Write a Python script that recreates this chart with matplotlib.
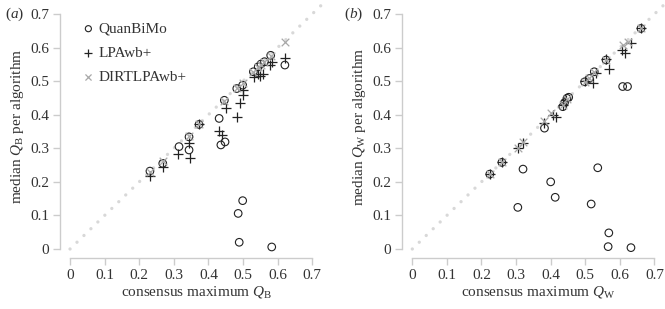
import numpy as np
import matplotlib
matplotlib.use('Agg')
import matplotlib.pyplot as plt

plt.rcParams['font.family'] = ['Liberation Serif', 'DejaVu Serif']
plt.rcParams['mathtext.fontset'] = 'custom'
plt.rcParams['mathtext.rm'] = 'Liberation Serif'
plt.rcParams['mathtext.it'] = 'Liberation Serif:italic'
plt.rcParams['font.size'] = 11

# панель (a): Q_B
qb_quan_x = [0.231, 0.268, 0.315, 0.344, 0.344, 0.373, 0.431, 0.436, 0.448, 0.446, 0.482, 0.499,
             0.530, 0.544, 0.552, 0.562, 0.580, 0.621, 0.486, 0.499, 0.489, 0.583]
qb_quan_y = [0.232, 0.255, 0.305, 0.295, 0.334, 0.371, 0.389, 0.310, 0.319, 0.443, 0.478, 0.488,
             0.528, 0.543, 0.551, 0.558, 0.577, 0.548, 0.106, 0.144, 0.020, 0.006]
qb_lpa_x = [0.231, 0.268, 0.313, 0.347, 0.344, 0.373, 0.431, 0.438, 0.451, 0.482, 0.491, 0.501,
            0.499, 0.532, 0.549, 0.559, 0.544, 0.578, 0.583, 0.621]
qb_lpa_y = [0.217, 0.243, 0.283, 0.270, 0.315, 0.371, 0.352, 0.339, 0.419, 0.394, 0.434, 0.458,
            0.473, 0.511, 0.515, 0.521, 0.521, 0.548, 0.558, 0.568]
qb_dirt_x = [0.231, 0.268, 0.344, 0.373, 0.446, 0.482, 0.499, 0.530, 0.544, 0.552, 0.562, 0.580, 0.621]
qb_dirt_y = [0.229, 0.262, 0.338, 0.371, 0.440, 0.480, 0.494, 0.528, 0.542, 0.549, 0.558, 0.574, 0.618]

# панель (b): Q_W
qw_quan_x = [0.224, 0.259, 0.382, 0.435, 0.440, 0.447, 0.452, 0.498, 0.512, 0.526, 0.560, 0.608,
             0.622, 0.661, 0.305, 0.320, 0.400, 0.413, 0.517, 0.536, 0.568, 0.566, 0.632]
qw_quan_y = [0.223, 0.258, 0.360, 0.424, 0.436, 0.449, 0.452, 0.498, 0.508, 0.528, 0.563, 0.484,
             0.484, 0.657, 0.124, 0.238, 0.200, 0.154, 0.134, 0.242, 0.048, 0.007, 0.004]
qw_lpa_x = [0.224, 0.259, 0.305, 0.320, 0.382, 0.406, 0.416, 0.435, 0.445, 0.498, 0.522, 0.530,
            0.560, 0.568, 0.606, 0.616, 0.632, 0.661]
qw_lpa_y = [0.223, 0.258, 0.300, 0.315, 0.374, 0.399, 0.394, 0.430, 0.445, 0.500, 0.494, 0.525,
            0.565, 0.535, 0.593, 0.583, 0.613, 0.657]
qw_dirt_x = [0.224, 0.259, 0.305, 0.320, 0.382, 0.402, 0.435, 0.447, 0.498, 0.512, 0.526, 0.560,
             0.608, 0.622, 0.661]
qw_dirt_y = [0.223, 0.258, 0.300, 0.320, 0.380, 0.404, 0.430, 0.447, 0.498, 0.510, 0.526, 0.563,
             0.608, 0.618, 0.657]

diag = [0, 0.73]
ticks = [0, 0.1, 0.2, 0.3, 0.4, 0.5, 0.6, 0.7]
tick_labels = ['0', '0.1', '0.2', '0.3', '0.4', '0.5', '0.6', '0.7']

text_c = '#333333'
spine_c = '#cccccc'

fig = plt.figure(figsize=(6.65, 3.09), dpi=100)
w, h = 0.3798, 0.793
ax_a = fig.add_axes([0.1053, 0.1942, w, h])
ax_b = fig.add_axes([0.620, 0.1942, w, h])


def style(ax, sub):
    ax.plot(diag, diag, color='#d8d8d8', lw=2.4, ls=(0, (0.01, 2.9)),
            dash_capstyle='round', clip_on=False, zorder=1)
    ax.set_xlim(0, 0.73)
    ax.set_ylim(0, 0.73)
    for s in ['top', 'right']:
        ax.spines[s].set_visible(False)
    ax.spines['left'].set_position(('outward', 7.2))
    ax.spines['bottom'].set_position(('outward', 6.5))
    ax.spines['left'].set_bounds(0, 0.7)
    ax.spines['bottom'].set_bounds(0, 0.7)
    for s in ['left', 'bottom']:
        ax.spines[s].set_color(spine_c)
        ax.spines[s].set_linewidth(1.0)
    ax.set_xticks(ticks)
    ax.set_xticklabels(tick_labels)
    ax.set_yticks(ticks)
    ax.set_yticklabels(tick_labels)
    ax.tick_params(colors=spine_c, labelcolor=text_c, length=5, width=1.0, pad=3, labelsize=11)
    ax.set_xlabel(r'consensus maximum $Q_{\mathrm{%s}}$' % sub, color=text_c, fontsize=11, labelpad=1)
    ax.set_ylabel(r'median $Q_{\mathrm{%s}}$ per algorithm' % sub, color=text_c, fontsize=11, labelpad=3)


def draw(ax, qx, qy, lx, ly, dx, dy):
    ax.scatter(qx, qy, s=30, facecolors='none', edgecolors='#222222', linewidths=0.8,
               marker='o', clip_on=False, zorder=3, label='QuanBiMo')
    ax.scatter(lx, ly, s=60, color='#222222', linewidths=0.9, marker='+',
               clip_on=False, zorder=4, label='LPAwb+')
    ax.scatter(dx, dy, s=30, color='#a8a8a8', linewidths=0.9, marker='x',
               clip_on=False, zorder=5, label='DIRTLPAwb+')


style(ax_a, 'B')
style(ax_b, 'W')
draw(ax_a, qb_quan_x, qb_quan_y, qb_lpa_x, qb_lpa_y, qb_dirt_x, qb_dirt_y)
draw(ax_b, qw_quan_x, qw_quan_y, qw_lpa_x, qw_lpa_y, qw_dirt_x, qw_dirt_y)

ax_a.legend(loc='upper left', bbox_to_anchor=(0.0, 0.97), frameon=False, fontsize=11,
            handletextpad=0.15, labelspacing=0.68, handlelength=1.0, labelcolor=text_c,
            borderpad=0.2, markerscale=0.8)

fig.text(0.008, 0.955, r'($a$)', color=text_c, fontsize=11, va='center')
fig.text(0.518, 0.955, r'($b$)', color=text_c, fontsize=11, va='center')

fig.savefig('out.png', dpi=100)
